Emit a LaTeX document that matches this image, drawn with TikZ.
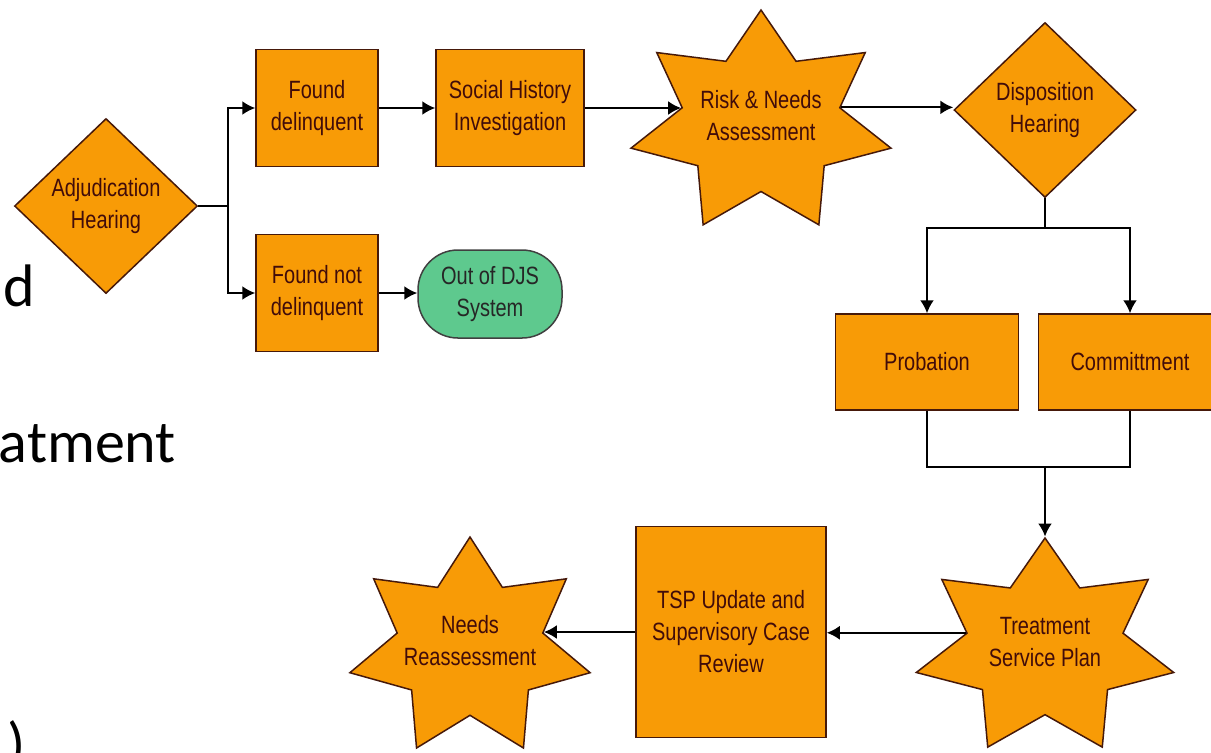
\documentclass[tikz,border=0pt]{standalone}
\usepackage{fontspec}
\setmainfont{Carlito}
\newfontfamily\chartfont[FakeStretch=0.8]{Liberation Sans}
\usetikzlibrary{arrows.meta,shapes,positioning,calc}

\definecolor{boxorange}{RGB}{248,155,6}
\definecolor{boxedge}{RGB}{70,25,10}
\definecolor{boxtext}{RGB}{65,12,10}
\definecolor{exitgreen}{RGB}{94,201,142}

\tikzset{
  basic/.style    = {draw=boxedge, line width=0.75pt, fill=boxorange, text=boxtext,
                     font=\chartfont\fontsize{12.5}{16}\selectfont, align=center, inner sep=0pt},
  task/.style     = {basic, rectangle},
  decision/.style = {basic, diamond},
  burst/.style    = {basic, star, star points=7, star point ratio=1.65},
  exit/.style     = {basic, rectangle, rounded corners=20pt, fill=exitgreen,
                     draw=black!75, text=black!85},
  caption/.style  = {font=\chartfont\fontsize{12.5}{16}\selectfont, text=boxtext, align=center},
  slidetext/.style = {font=\fontsize{30}{35}\selectfont, inner sep=0pt}
}

\begin{document}
\begin{tikzpicture}[x=0.5pt, y=-0.5pt, line width=1pt,
  >={Latex[length=6.5pt,width=7pt]}]

\useasboundingbox (0,0) rectangle (1211,752);
\clip (0,0) rectangle (1211,752);

% bits of the slide text behind the chart
\node[slidetext, anchor=base east] (frag1) at (36,306) {d};
\node[slidetext, anchor=base east] (frag2) at (177,462) {atment};
\node[slidetext, anchor=base west] (frag3) at (6,764) {)};

% first row
\node[decision, minimum width=91.5pt, minimum height=87.5pt] (adj) at (106,206) {Adjudication\\Hearing};
\node[task, minimum width=61pt, minimum height=58.5pt] (fd) at (317,108) {Found\\delinquent};
\node[task, minimum width=74pt, minimum height=58.5pt] (soc) at (510,108) {Social History\\Investigation};
\node[task, minimum width=61pt, minimum height=58.5pt] (fnd) at (317,293) {Found not\\delinquent};
\node[exit, minimum width=72pt, minimum height=44pt] (out) at (490,294) {Out of DJS\\System};
\node[decision, minimum width=91pt, minimum height=87.5pt] (disp) at (1045,110) {Disposition\\Hearing};

% the stars are a little wider than tall
\begin{scope}[shift={(761,123)}, xscale=1.18]
  \node[burst, transform shape, minimum size=113pt] (risk) at (0,0) {};
\end{scope}
\node[caption] (risklbl) at (761,116) {Risk \& Needs\\Assessment};

% second column
\node[task, minimum width=91.5pt, minimum height=48pt] (prob) at (927,362) {Probation};
\node[task, minimum width=91.5pt, minimum height=48pt] (comm) at (1130,362) {Committment};

% last row
\begin{scope}[shift={(1045,648)}, xscale=1.2]
  \node[burst, transform shape, minimum size=110pt] (treat) at (0,0) {};
\end{scope}
\node[caption] (treatlbl) at (1045,642) {Treatment\\Service Plan};
\node[task, minimum width=95pt, minimum height=105.5pt] (tsp) at (731,632) {TSP Update and\\Supervisory Case\\Review};
\begin{scope}[shift={(470,648)}, xscale=1.11]
  \node[burst, transform shape, minimum size=111pt] (needs) at (0,0) {};
\end{scope}
\node[caption] (needslbl) at (470,641) {Needs\\Reassessment};

\coordinate (split) at (1045,228);
\coordinate (merge) at (1045,467);

% connectors
\foreach \target in {fd,fnd}
  \draw[->] (adj.east) -- ++(30,0) |- (\target.west);
\draw[->] (fd) -- (soc);
\draw[->] (fnd.east) -- (fnd.east -| out.west);
\draw[->] (soc.east) -- (soc.east -| risk.167);
\draw[->] (risk.13) -- (risk.13 -| disp.west);

\draw (disp.south) -- (split);
\foreach \target in {prob,comm}
  \draw[->] (split) -| (\target.north);
\draw (prob.south) |- (merge) -| (comm.south);
\draw[->] (merge) -- (treat.north);

\draw[->] (treat.167) -- (treat.167 -| tsp.east);
\draw[->] (tsp.west) -- (tsp.west -| needs.13);
\end{tikzpicture}
\end{document}
